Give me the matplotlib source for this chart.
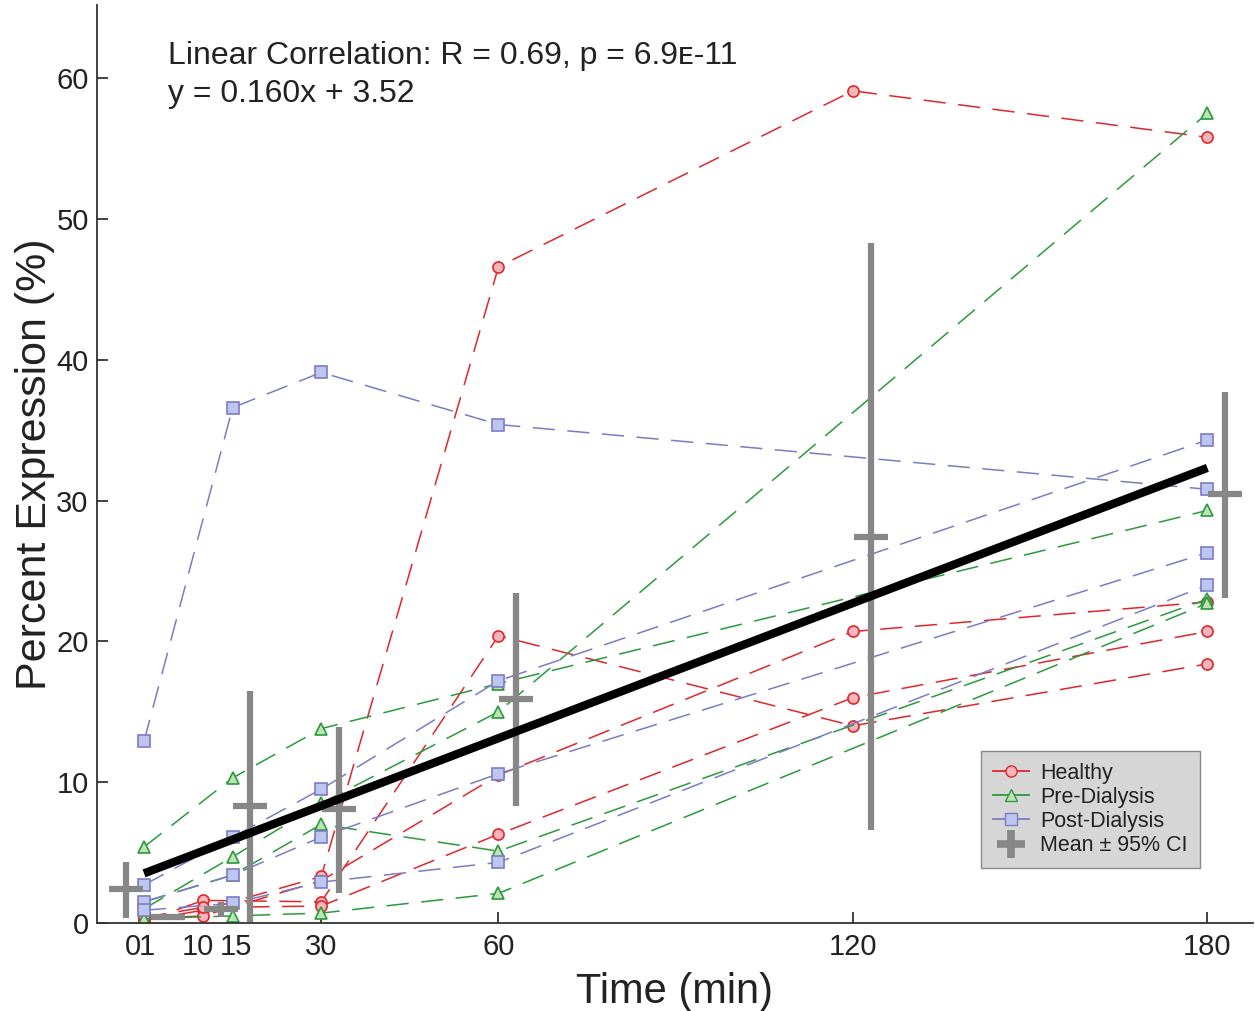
import numpy as np
import matplotlib
matplotlib.use("Agg")
import matplotlib.pyplot as plt
import matplotlib.transforms as mtransforms
from matplotlib.lines import Line2D

plt.rcParams['font.family'] = ['Liberation Sans', 'DejaVu Sans']
plt.rcParams['lines.scale_dashes'] = False

# Sampling times (min)
t_healthy = [0, 10, 30, 60, 120, 180]
t_dialysis = [0, 15, 30, 60, 180]

# Healthy subjects
healthy = [
    [0.2, 0.9, 3.3, 46.6, 59.1, 55.8],
    [0.1, 1.6, 1.5, 20.4, 14.0, 18.4],
    [0.3, 0.5, 3.0, 10.5, 20.7, 22.8],
    [0.4, 1.1, 1.2, 6.3, 16.0, 20.7],
]

# Pre-dialysis subjects
pre_dialysis = [
    [5.4, 10.3, 13.8, 17.0, 29.3],
    [1.0, 4.7, 8.5, 15.0, 57.5],
    [1.5, 3.4, 7.0, 5.1, 23.0],
    [0.3, 0.5, 0.7, 2.1, 22.7],
]

# Post-dialysis subjects
post_dialysis = [
    [12.9, 36.6, 39.1, 35.4, 30.8],
    [2.7, 6.1, 9.5, 17.2, 34.3],
    [1.5, 3.4, 6.1, 10.6, 26.3],
    [0.9, 1.4, 2.9, 4.3, 24.0],
]

# Mean +/- 95% CI per time point (drawn slightly offset from the time)
mean_times = [0, 1, 10, 15, 30, 60, 120, 180]
mean_offset = [-3, 3, 3, 3, 3, 3, 3, 3]
mean_vals = [2.4, 0.4, 1.0, 8.3, 8.1, 15.9, 27.4, 30.5]
ci_low = [0.35, 0.3, 0.4, 0.1, 2.1, 8.3, 6.6, 23.1]
ci_high = [4.3, 0.5, 1.5, 16.5, 13.9, 23.4, 48.3, 37.7]

# Linear fit
slope, intercept = 0.160, 3.52

xticks = [0, 1, 10, 15, 30, 60, 120, 180]
yticks = [0, 10, 20, 30, 40, 50, 60]

red, red_face = '#e0262b', '#f5b5bb'
green, green_face = '#2a9a3c', '#bfe3b6'
blue, blue_face = '#7a7cc4', '#bcc6ee'
gray = '#878787'
dash = (16, 9)

fig = plt.figure(figsize=(12.55, 10.11), dpi=100)
ax = fig.add_axes([0.0773, 0.0871, 0.921, 0.908])

groups = [
    (t_healthy, healthy, red, red_face, 'o'),
    (t_dialysis, pre_dialysis, green, green_face, '^'),
    (t_dialysis, post_dialysis, blue, blue_face, 's'),
]
for tt, rows, c, fc, m in groups:
    for row in rows:
        ax.plot(tt, row, color=c, lw=1.1, dashes=dash, marker=m, ms=8,
                mfc=fc, mec=c, mew=1.2, zorder=2)

# Mean +/- CI crosses
mx = np.array(mean_times) + np.array(mean_offset)
mv = np.array(mean_vals)
yerr = [mv - np.array(ci_low), np.array(ci_high) - mv]
ax.errorbar(mx, mv, yerr=yerr, fmt='none', ecolor=gray, elinewidth=4.5,
            capsize=0, zorder=4)
ax.plot(mx, mv, ls='none', marker='_', ms=25, mew=4.5, color=gray, zorder=4)

# Regression line
xf = np.array([0, 180])
ax.plot(xf, slope * xf + intercept, color='black', lw=6, solid_capstyle='butt',
        zorder=5)

ax.text(4, 61.6, 'Linear Correlation: R = 0.69, p = 6.9\u1d07-11', fontsize=23,
        va='center', ha='left', color='#222222')
ax.text(4, 58.9, 'y = 0.160x + 3.52', fontsize=23, va='center', ha='left',
        color='#222222')

ax.set_xlim(-7.96, 187.7)
ax.set_ylim(0, 65.2)
ax.set_xticks(xticks)
ax.set_xticklabels([str(v) for v in xticks])
ax.set_yticks(yticks)
ax.tick_params(axis='both', direction='in', labelsize=21, width=1.3,
               length=8, colors='#333333', labelcolor='#222222')
ax.tick_params(axis='x', pad=7)
ax.tick_params(axis='y', pad=6)

# nudge the crowded 0 / 1 / 10 / 15 labels apart (pixels)
nudges = {0: -11, 1: -3, 2: -5, 3: 3}
labs = ax.get_xticklabels()
for i, dx in nudges.items():
    labs[i].set_transform(labs[i].get_transform() +
                          mtransforms.ScaledTranslation(dx / 100, 0, fig.dpi_scale_trans))

for s in ['top', 'right']:
    ax.spines[s].set_visible(False)
for s in ['left', 'bottom']:
    ax.spines[s].set_color('#333333')
    ax.spines[s].set_linewidth(1.3)

ax.set_xlabel('Time (min)', fontsize=30, color='#222222', labelpad=8.5)
ax.set_ylabel('Percent Expression (%)', fontsize=31, color='#222222', labelpad=1)

handles = [
    Line2D([], [], color=red, marker='o', ms=8, mfc=red_face, mec=red, lw=1.3),
    Line2D([], [], color=green, marker='^', ms=8, mfc=green_face, mec=green, lw=1.3),
    Line2D([], [], color=blue, marker='s', ms=8, mfc=blue_face, mec=blue, lw=1.3),
    Line2D([], [], color=gray, marker='+', ms=20, mew=5.5, ls='none'),
]
leg = ax.legend(handles, ['Healthy', 'Pre-Dialysis', 'Post-Dialysis', 'Mean \u00b1 95% CI'],
                loc='lower left', bbox_to_anchor=(0.7817, 0.1414),
                bbox_transform=fig.transFigure, borderaxespad=0, fontsize=15.5,
                fancybox=False, framealpha=1, handlelength=1.7, handletextpad=0.5,
                labelspacing=0.15, borderpad=0.55)
leg.get_frame().set_facecolor('#d6d6d6')
leg.get_frame().set_edgecolor('#8a8a8a')
leg.get_frame().set_linewidth(1.0)
for t in leg.get_texts():
    t.set_color('#222222')

fig.savefig('out.png', dpi=100)
